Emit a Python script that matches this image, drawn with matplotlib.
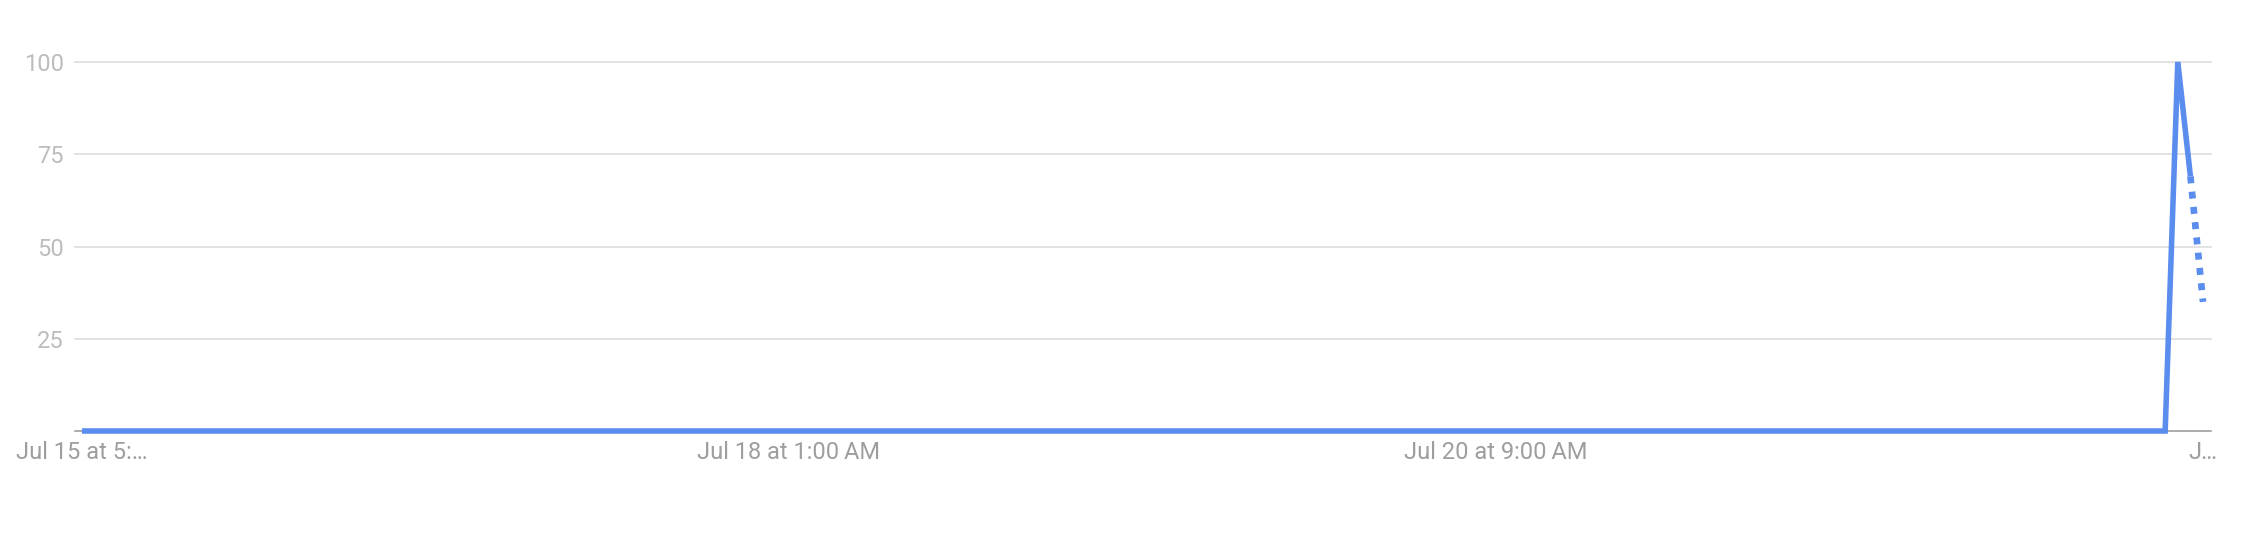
import pandas as pd
import matplotlib.pyplot as plt

plt.rcParams['font.family'] = ['Roboto', 'DejaVu Sans']

# hourly interest, Jul 15 5 PM -> Jul 22 5 PM (last point partial)
times = pd.date_range('2024-07-15 17:00', periods=169, freq='h')
values = [0] * 166 + [100, 69, 35]

tick_times = [times[0], times[56], times[112], times[168]]
tick_labels = ['Jul 15 at 5:…', 'Jul 18 at 1:00\u2009AM', 'Jul 20 at 9:00\u2009AM', 'J…']
y_ticks = [25, 50, 75, 100]

blue = '#5b8def'

fig = plt.figure(figsize=(22.58, 5.34), dpi=100)
ax = fig.add_axes([75 / 2258, 1 - 431 / 534, (2211 - 75) / 2258, (431 - 62) / 534])

# full data solid, last (incomplete) segment dotted
ax.plot(times[:-1], values[:-1], color=blue, lw=4.0, solid_joinstyle='miter',
        solid_capstyle='butt', zorder=3, clip_on=False)
ax.plot(times[-2:], values[-2:], color=blue, lw=4.8, linestyle=(0, (1.05, 1.25)),
        dash_capstyle='butt', zorder=3, clip_on=False)

hour = pd.Timedelta(hours=1)
ax.set_xlim(times[0] - 0.55 * hour, times[-1] + 0.63 * hour)
ax.set_ylim(0, 100)

ax.set_yticks(y_ticks)
ax.set_yticklabels([str(v) for v in y_ticks])
ax.set_xticks(tick_times)
ax.set_xticklabels(tick_labels)

ax.grid(axis='y', color='#dddddd', lw=1.2)
for gl in ax.get_ygridlines():
    gl.set_clip_on(False)
ax.set_axisbelow(True)
ax.tick_params(axis='y', length=0, pad=8, labelsize=17, labelcolor='#bdbdbd')
ax.tick_params(axis='x', length=0, pad=7, labelsize=17, labelcolor='#9e9e9e')

for s in ['top', 'right', 'left']:
    ax.spines[s].set_visible(False)
ax.spines['bottom'].set_color('#9e9e9e')
ax.spines['bottom'].set_linewidth(1.2)

fig.savefig('out.png', dpi=100)
